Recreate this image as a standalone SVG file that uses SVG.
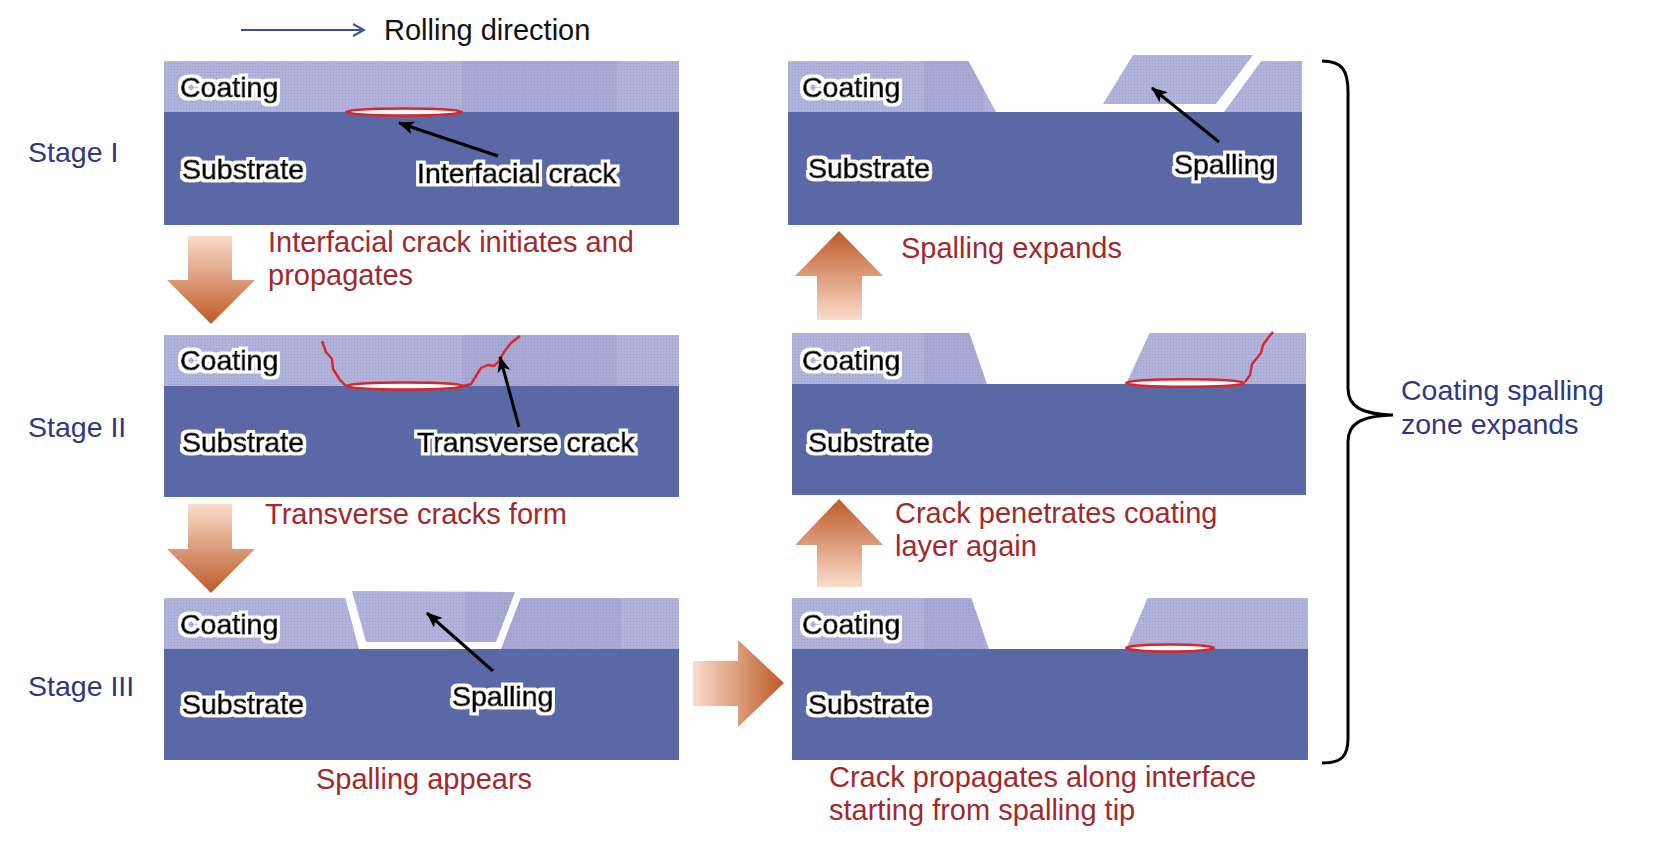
<svg xmlns="http://www.w3.org/2000/svg" width="1654" height="853" viewBox="0 0 1654 853">
<style>
  .sub { fill: #5a69a5; }
  .coat { fill: url(#dots); }
  .band { fill: #6b70b0; opacity: 0.13; }
  .hole { fill: #ffffff; }
  .lbl { font-family: "Liberation Sans", Arial, sans-serif; font-size: 28.5px; fill: #000; stroke: #000; stroke-width: 0.9px; filter: url(#halo); }
  .cap { font-family: "Liberation Sans", Arial, sans-serif; font-size: 29px; fill: #a3282b; }
  .stage { font-family: "Liberation Sans", Arial, sans-serif; font-size: 28.5px; fill: #2e3785; }
  .title { font-family: "Liberation Sans", Arial, sans-serif; font-size: 29px; fill: #111; }
  .crack { fill: #fff; stroke: #d8262a; stroke-width: 2.4; }
  .rcrack { fill: none; stroke: #d8262a; stroke-width: 2.4; stroke-linejoin: round; }
  .lead { stroke: #000; stroke-width: 3; fill: none; marker-end: url(#ah); }
</style>
<defs>
  <filter id="halo" x="-10%" y="-30%" width="120%" height="160%">
    <feMorphology in="SourceAlpha" operator="dilate" radius="2.6" result="d"/>
    <feFlood flood-color="#ffffff"/>
    <feComposite in2="d" operator="in" result="w"/>
    <feMerge>
      <feMergeNode in="w"/>
      <feMergeNode in="SourceGraphic"/>
    </feMerge>
  </filter>
  <pattern id="dots" patternUnits="userSpaceOnUse" width="3" height="3">
    <rect width="3" height="3" fill="#b1b3da"/>
    <rect width="1" height="1" fill="#9a9dcb"/>
  </pattern>
  <marker id="ah" markerWidth="16" markerHeight="13" refX="15" refY="6.5" orient="auto" markerUnits="userSpaceOnUse">
    <path d="M0,0 L16,6.5 L0,13 L4,6.5 Z" fill="#000"/>
  </marker>
  <marker id="open" markerWidth="14" markerHeight="14" refX="12" refY="7" orient="auto" markerUnits="userSpaceOnUse">
    <path d="M1,1 L12,7 L1,13" fill="none" stroke="#3e5096" stroke-width="2"/>
  </marker>
  <linearGradient id="gDown" x1="0" y1="0" x2="0" y2="1">
    <stop offset="0" stop-color="#fbdccb"/>
    <stop offset="1" stop-color="#bd5a28"/>
  </linearGradient>
  <linearGradient id="gUp" x1="0" y1="1" x2="0" y2="0">
    <stop offset="0" stop-color="#fbdccb"/>
    <stop offset="1" stop-color="#bd5a28"/>
  </linearGradient>
  <linearGradient id="gRight" x1="0" y1="0" x2="1" y2="0">
    <stop offset="0" stop-color="#fbdccb"/>
    <stop offset="1" stop-color="#bd5a28"/>
  </linearGradient>
</defs>

<rect width="1654" height="853" fill="#fff"/>

<g id="legend">
  <line x1="241" y1="30" x2="364" y2="30" stroke="#3e5096" stroke-width="2" marker-end="url(#open)"/>
  <text class="title" x="384" y="40">Rolling direction</text>
</g>

<g id="stage-labels">
  <text class="stage" x="28" y="162">Stage I</text>
  <text class="stage" x="28" y="437">Stage II</text>
  <text class="stage" x="28" y="696">Stage III</text>
</g>

<!-- Stage I -->
<g id="panel-stage1">
  <rect class="sub" x="164" y="112" width="515" height="113"/>
  <rect class="coat" x="164" y="61" width="515" height="51"/>
  <rect class="band" x="462" y="61" width="155" height="51"/>
  <ellipse class="crack" cx="404" cy="112" rx="58" ry="3.5"/>
  <text class="lbl" x="180" y="97">Coating</text>
  <text class="lbl" x="182" y="179">Substrate</text>
  <text class="lbl" x="417" y="183">Interfacial crack</text>
</g>

<!-- Stage II -->
<g id="panel-stage2">
  <rect class="sub" x="164" y="386" width="515" height="111"/>
  <rect class="coat" x="164" y="335" width="515" height="51"/>
  <rect class="band" x="462" y="335" width="155" height="51"/>
  <ellipse class="crack" cx="405" cy="386" rx="59" ry="3.5"/>
  <polyline class="rcrack" points="322,341 326,352 332,359 333,369 340,380 346,386"/>
  <polyline class="rcrack" points="464,386 471,384 476,376 481,368 488,365 494,366 499,361 504,352 511,343 520,336"/>
  <text class="lbl" x="180" y="370">Coating</text>
  <text class="lbl" x="182" y="452">Substrate</text>
  <text class="lbl" x="417" y="452">Transverse crack</text>
</g>

<!-- Stage III -->
<g id="panel-stage3">
  <rect class="sub" x="164" y="649" width="515" height="111"/>
  <rect class="coat" x="164" y="598" width="515" height="51"/>
  <rect class="band" x="465" y="598" width="156" height="51"/>
  <polygon class="hole" points="345,597 359,649 501,649 521,597"/>
  <polygon class="coat" points="352,591 515,592 496,642 366,642"/>
  <polygon class="band" points="465,591 515,592 496,642 465,642"/>
  <text class="lbl" x="180" y="634">Coating</text>
  <text class="lbl" x="182" y="714">Substrate</text>
  <text class="lbl" x="452" y="706">Spalling</text>
</g>

<!-- Right column, bottom -->
<g id="panel-r3">
  <rect class="sub" x="792" y="649" width="516" height="111"/>
  <rect class="coat" x="792" y="598" width="516" height="51"/>
  <rect class="band" x="924" y="598" width="60" height="51"/>
  <polygon class="hole" points="971,597 989,649 1126,649 1148,597"/>
  <ellipse class="crack" cx="1170" cy="648" rx="44" ry="3.5"/>
  <text class="lbl" x="802" y="634">Coating</text>
  <text class="lbl" x="808" y="714">Substrate</text>
</g>

<!-- Right column, middle -->
<g id="panel-r2">
  <rect class="sub" x="792" y="384" width="514" height="111"/>
  <rect class="coat" x="792" y="333" width="514" height="51"/>
  <rect class="band" x="924" y="333" width="60" height="51"/>
  <polygon class="hole" points="969,332 987,384 1126,384 1150,332"/>
  <ellipse class="crack" cx="1185" cy="383" rx="59" ry="3.8"/>
  <polyline class="rcrack" points="1245,382 1250,375 1252,364 1257,358 1261,353 1263,345 1268,338 1273,332"/>
  <text class="lbl" x="802" y="370">Coating</text>
  <text class="lbl" x="808" y="452">Substrate</text>
</g>

<!-- Right column, top -->
<g id="panel-r1">
  <rect class="sub" x="788" y="112" width="514" height="113"/>
  <rect class="coat" x="788" y="61" width="514" height="51"/>
  <rect class="band" x="924" y="61" width="60" height="51"/>
  <polygon class="hole" points="968,60 996,112 1224,112 1262,60"/>
  <polygon class="coat" points="1133,55 1253,55 1216,104 1103,104"/>
  <text class="lbl" x="802" y="97">Coating</text>
  <text class="lbl" x="808" y="178">Substrate</text>
  <text class="lbl" x="1174" y="174">Spalling</text>
</g>

<g id="connectors">
  <line class="lead" x1="498" y1="156" x2="399" y2="123"/>
  <line class="lead" x1="519" y1="427" x2="500" y2="357"/>
  <line class="lead" x1="493" y1="671" x2="427" y2="613"/>
  <line class="lead" x1="1219" y1="142" x2="1152" y2="88"/>
  <polygon fill="url(#gDown)" points="188,236 232,236 232,280 255,280 211,324 167,280 188,280"/>
  <polygon fill="url(#gDown)" points="188,504 232,504 232,549 255,549 211,593 167,549 188,549"/>
  <polygon fill="url(#gRight)" points="693,661 738,661 738,640 784,683 738,727 738,706 693,706"/>
  <polygon fill="url(#gUp)" points="817,587 862,587 862,545 883,545 839,499 795,545 817,545"/>
  <polygon fill="url(#gUp)" points="817,320 862,320 862,276 883,276 839,231 795,276 817,276"/>
  <path d="M1322,61 C1342,61 1348,70 1348,92 L1348,388 C1348,406 1360,414 1393,415 C1360,416 1348,424 1348,442 L1348,738 C1348,756 1342,763 1322,763" fill="none" stroke="#000" stroke-width="3"/>
</g>

<g id="captions">
  <text class="cap" x="268" y="252">Interfacial crack initiates and</text>
  <text class="cap" x="268" y="285">propagates</text>
  <text class="cap" x="265" y="524">Transverse cracks form</text>
  <text class="cap" x="316" y="789">Spalling appears</text>
  <text class="cap" x="901" y="258">Spalling expands</text>
  <text class="cap" x="895" y="523">Crack penetrates coating</text>
  <text class="cap" x="895" y="556">layer again</text>
  <text class="cap" x="829" y="787">Crack propagates along interface</text>
  <text class="cap" x="829" y="820">starting from spalling tip</text>
  <text class="stage" x="1401" y="400">Coating spalling</text>
  <text class="stage" x="1401" y="434">zone expands</text>
</g>
</svg>
